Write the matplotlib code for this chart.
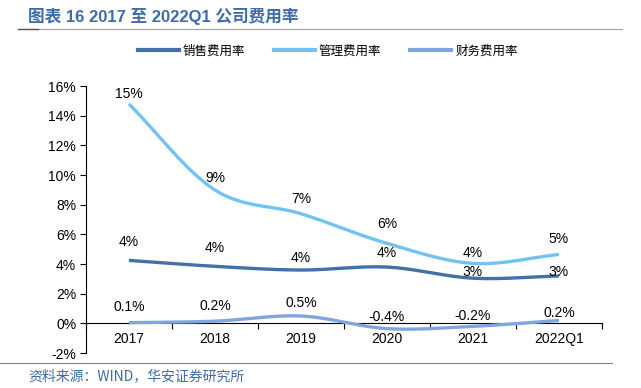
import numpy as np
import matplotlib.pyplot as plt
from matplotlib.lines import Line2D

plt.rcParams['font.family'] = ['Liberation Sans', 'Noto Sans CJK SC', 'DejaVu Sans']

categories = ['2017', '2018', '2019', '2020', '2021', '2022Q1']
sales_rate = [4.25, 3.85, 3.6, 3.8, 3.05, 3.2]
admin_rate = [14.8, 9.0, 7.4, 5.4, 4.05, 4.65]
finance_rate = [0.05, 0.15, 0.5, -0.35, -0.2, 0.2]
sales_labels = ['4%', '4%', '4%', '4%', '3%', '3%']
admin_labels = ['15%', '9%', '7%', '6%', '4%', '5%']
finance_labels = ['0.1%', '0.2%', '0.5%', '-0.4%', '-0.2%', '0.2%']
series_names = ['销售费用率', '管理费用率', '财务费用率']
colors = ['#4470A8', '#72C3F2', '#7FA6DE']

# label lift above each point, in pixels
sales_lift = [18, 18, 12, 14, 6, 4]
admin_lift = [10, 12, 15, 19, 10, 15]
finance_lift = [16, 15, 13, 12, 10, 7]


def smooth(x, y, n=30):
    # catmull-rom curve, like the smoothed lines of the spreadsheet
    x = np.asarray(x, float)
    y = np.asarray(y, float)
    px = np.concatenate([[2 * x[0] - x[1]], x, [2 * x[-1] - x[-2]]])
    py = np.concatenate([[2 * y[0] - y[1]], y, [2 * y[-1] - y[-2]]])
    xs, ys = [], []
    t = np.linspace(0, 1, n)
    for i in range(1, len(px) - 2):
        for p, out in ((px, xs), (py, ys)):
            p0, p1, p2, p3 = p[i - 1], p[i], p[i + 1], p[i + 2]
            out.extend(0.5 * (2 * p1 + (-p0 + p2) * t
                              + (2 * p0 - 5 * p1 + 4 * p2 - p3) * t ** 2
                              + (-p0 + 3 * p1 - 3 * p2 + p3) * t ** 3))
    return np.array(xs), np.array(ys)


fig = plt.figure(figsize=(6.41, 3.88), dpi=100)
ax = fig.add_axes([0.134, 0.090, 0.805, 0.688])

x = np.arange(len(categories))
all_vals = [sales_rate, admin_rate, finance_rate]
all_labels = [sales_labels, admin_labels, finance_labels]
all_lifts = [sales_lift, admin_lift, finance_lift]
for vals, labs, lifts, c in zip(all_vals, all_labels, all_lifts, colors):
    sx, sy = smooth(x, vals)
    ax.plot(sx, sy, color=c, lw=2.4, solid_capstyle='butt', zorder=3)
    for xi, v, lab, lift in zip(x, vals, labs, lifts):
        ax.annotate(lab, (xi, v), xytext=(0, lift * 0.72), textcoords='offset points',
                    ha='center', va='center', fontsize=10, zorder=4)

ax.set_xlim(-0.5, len(categories) - 0.5)
ax.set_ylim(-2, 16)
ax.set_yticks(np.arange(-2, 17, 2))
ax.set_yticklabels(['%d%%' % v for v in range(-2, 17, 2)], fontsize=10)
ax.tick_params(axis='y', direction='out', length=4, width=0.8, pad=3)

ax.spines['top'].set_visible(False)
ax.spines['right'].set_visible(False)
ax.spines['bottom'].set_position(('data', 0))
ax.spines['left'].set_linewidth(0.8)
ax.spines['bottom'].set_linewidth(0.8)
ax.set_xticks(np.arange(-0.5, len(categories)), minor=False)
ax.set_xticklabels([])
ax.tick_params(axis='x', which='major', direction='out', length=4, width=0.8)
ax.set_xticks(x, minor=True)
ax.set_xticklabels(categories, minor=True, fontsize=10)
ax.tick_params(axis='x', which='minor', length=0, pad=6)

handles = [Line2D([], [], color=c, lw=3) for c in colors]
fig.legend(handles, series_names, loc='center', bbox_to_anchor=(0.511, 0.869),
           ncol=3, frameon=False, handlelength=3.3,
           columnspacing=2.3, handletextpad=0.3,
           prop={'family': ['Noto Sans CJK SC'], 'size': 9})

fig.text(0.044, 0.957, '图表 16 2017 至 2022Q1 公司费用率', fontsize=12,
         fontweight='bold', color='#3F6BA8', va='center',
         family=['Liberation Sans', 'Noto Sans CJK SC'])
fig.add_artist(Line2D([0.028, 0.97], [0.925, 0.925], color='#A0A0A0', lw=0.8))
fig.add_artist(Line2D([0.028, 0.06], [0.925, 0.925], color='#555555', lw=1.0))
fig.add_artist(Line2D([0.0, 0.955], [0.064, 0.064], color='#808080', lw=0.8))
fig.text(0.044, 0.03, '资料来源：WIND，华安证券研究所', fontsize=10,
         color='#3F6BA8', va='center', family=['Noto Sans CJK SC'])

fig.savefig('out.png', dpi=100)
